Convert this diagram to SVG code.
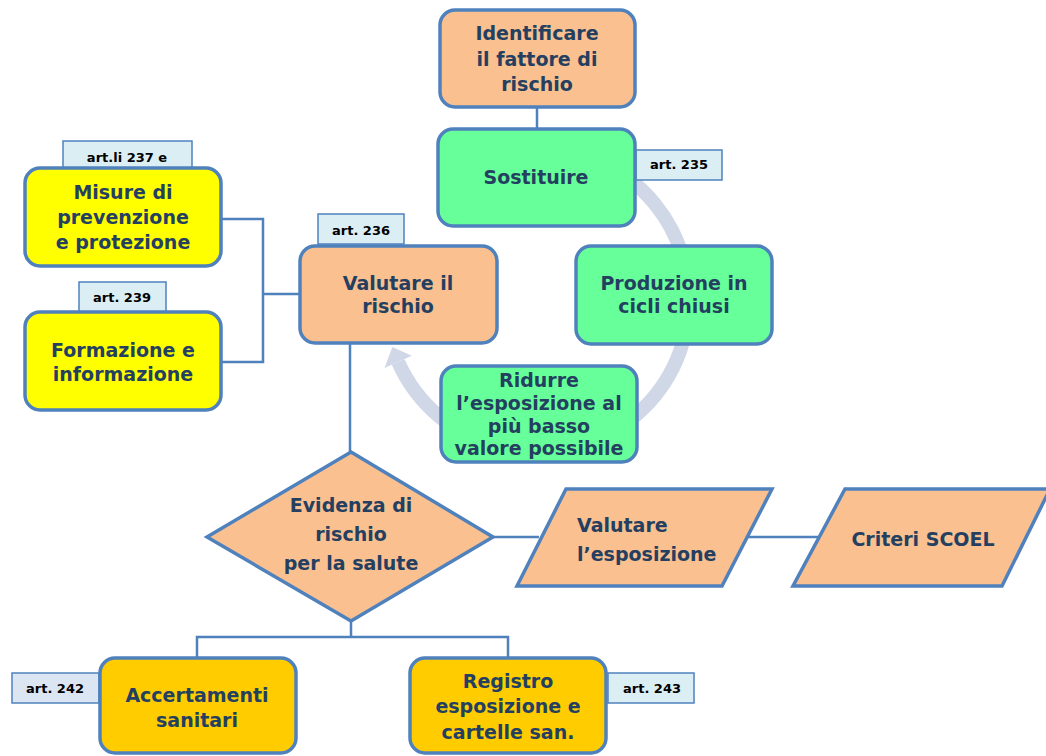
<svg xmlns="http://www.w3.org/2000/svg" width="1046" height="756" viewBox="0 0 1046 756">
<style>
.box{stroke:#4f81bd;stroke-width:3.5}
.peach{fill:#fac090}
.green{fill:#66ff99}
.yellow{fill:#ffff00}
.gold{fill:#ffcc00}
.tag{fill:#dbeef4;stroke:#4f81bd;stroke-width:1.5}
.tag2{fill:#dce6f2;stroke:#4f81bd;stroke-width:1.5}
.t{font-family:"DejaVu Sans","Liberation Sans",sans-serif;font-weight:bold;font-size:19px;fill:#243f60;text-anchor:middle}
.tl{text-anchor:start}
.tt{font-family:"DejaVu Sans","Liberation Sans",sans-serif;font-weight:bold;font-size:13px;fill:#000;text-anchor:middle}
.line{fill:none;stroke:#4f81bd;stroke-width:2.5}
</style>
<rect width="1046" height="756" fill="#fff"/>
<g id="connectors">
  <g id="cycle-arrow">
    <path d="M601.2,162.2 A152,152 0 1 1 398.1,361.8" fill="none" stroke="#d0d8e8" stroke-width="14"/>
    <polygon points="384.4,367.9 411.8,355.7 392.4,347" fill="#d0d8e8"/>
  </g>
  <path class="line" d="M537,107 V129"/>
  <path class="line" d="M221,219 H263 V362 H221 M263,294 H300"/>
  <path class="line" d="M350,343 V452"/>
  <path class="line" d="M351,621 V637 M197,658 V637 H508 V658"/>
  <path class="line" d="M493,537 H539"/>
  <path class="line" d="M747,537 H818"/>
</g>
<g id="identificare">
  <rect class="box peach" x="440" y="10" width="195" height="97" rx="15"/>
  <text class="t" x="537" y="40">Identificare</text>
  <text class="t" x="537" y="66">il fattore di</text>
  <text class="t" x="537" y="91">rischio</text>
</g>
<g id="sostituire">
  <rect class="tag" x="636" y="150" width="86" height="30"/>
  <text class="tt" x="679" y="169">art. 235</text>
  <rect class="box green" x="438" y="129" width="197" height="97" rx="15"/>
  <text class="t" x="536" y="184">Sostituire</text>
</g>
<g id="produzione">
  <rect class="box green" x="576" y="246" width="196" height="98" rx="15"/>
  <text class="t" x="674" y="290">Produzione in</text>
  <text class="t" x="674" y="313">cicli chiusi</text>
</g>
<g id="ridurre">
  <rect class="box green" x="441" y="366" width="196" height="96" rx="15"/>
  <text class="t" x="539" y="387">Ridurre</text>
  <text class="t" x="539" y="410">l’esposizione al</text>
  <text class="t" x="539" y="433">più basso</text>
  <text class="t" x="539" y="455">valore possibile</text>
</g>
<g id="valutare-rischio">
  <rect class="tag" x="318" y="214" width="86" height="30"/>
  <text class="tt" x="361" y="235">art. 236</text>
  <rect class="box peach" x="300" y="246" width="197" height="97" rx="15"/>
  <text class="t" x="398" y="290">Valutare il</text>
  <text class="t" x="398" y="313">rischio</text>
</g>
<g id="misure">
  <rect class="tag" x="63" y="141" width="129" height="27"/>
  <text class="tt" x="127" y="162">art.li 237 e</text>
  <rect class="box yellow" x="25" y="168" width="196" height="98" rx="15"/>
  <text class="t" x="123" y="199">Misure di</text>
  <text class="t" x="123" y="224">prevenzione</text>
  <text class="t" x="123" y="249">e protezione</text>
</g>
<g id="formazione">
  <rect class="tag" x="79" y="282" width="87" height="30"/>
  <text class="tt" x="122" y="302">art. 239</text>
  <rect class="box yellow" x="25" y="312" width="196" height="98" rx="15"/>
  <text class="t" x="123" y="357">Formazione e</text>
  <text class="t" x="123" y="381">informazione</text>
</g>
<g id="evidenza">
  <polygon class="box peach" points="351,452 493,537 351,621 207,537"/>
  <text class="t" x="351" y="512">Evidenza di</text>
  <text class="t" x="351" y="541">rischio</text>
  <text class="t" x="351" y="570">per la salute</text>
</g>
<g id="valutare-esposizione">
  <polygon class="box peach" points="566,489 772,489 722,586 517,586"/>
  <text class="t tl" x="577" y="532">Valutare</text>
  <text class="t tl" x="577" y="561">l’esposizione</text>
</g>
<g id="criteri">
  <polygon class="box peach" points="845,489 1050,489 1002,586 793,586"/>
  <text class="t" x="923" y="546">Criteri SCOEL</text>
</g>
<g id="accertamenti">
  <rect class="tag2" x="12" y="673" width="87" height="30"/>
  <text class="tt" x="55" y="693">art. 242</text>
  <rect class="box gold" x="100" y="658" width="196" height="95" rx="15"/>
  <text class="t" x="197" y="702">Accertamenti</text>
  <text class="t" x="197" y="727">sanitari</text>
</g>
<g id="registro">
  <rect class="tag" x="608" y="673" width="86" height="30"/>
  <text class="tt" x="652" y="693">art. 243</text>
  <rect class="box gold" x="410" y="658" width="196" height="95" rx="15"/>
  <text class="t" x="508" y="688">Registro</text>
  <text class="t" x="508" y="713">esposizione e</text>
  <text class="t" x="508" y="739">cartelle san.</text>
</g>
</svg>
